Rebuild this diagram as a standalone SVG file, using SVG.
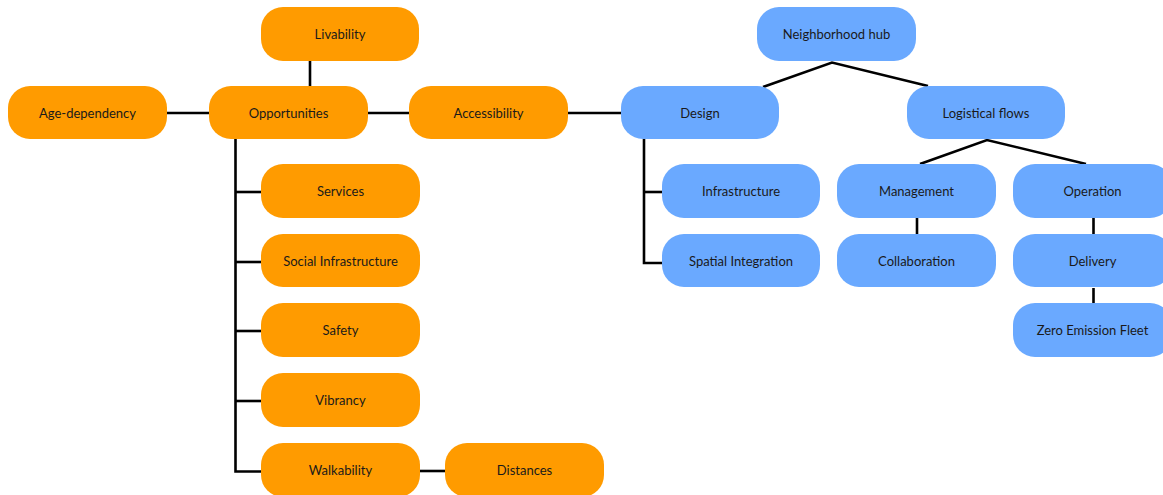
<svg xmlns="http://www.w3.org/2000/svg" width="1163" height="495" viewBox="0 0 1163 495">
  <style>
    .o rect { fill: #FF9B00; }
    .b rect { fill: #6AA9FF; }
    text { font-family: Lato, "Liberation Sans", sans-serif; font-size: 13px; fill: #1a1a1a; text-anchor: middle; dominant-baseline: central; }
    #connectors { stroke: #000; stroke-width: 2.6; fill: none; }
  </style>
  <rect width="1163" height="495" fill="#fff"/>

  <!-- links -->
  <g id="connectors">
    <line x1="310" y1="61" x2="310" y2="86"/>
    <line x1="167" y1="113" x2="209" y2="113"/>
    <line x1="368" y1="113" x2="409" y2="113"/>
    <line x1="568" y1="113" x2="621" y2="113"/>
    <!-- opportunities trunk -->
    <polyline points="235.5,139 235.5,471.5 261,471.5"/>
    <line x1="235.5" y1="192" x2="261" y2="192"/>
    <line x1="235.5" y1="262" x2="261" y2="262"/>
    <line x1="235.5" y1="331" x2="261" y2="331"/>
    <line x1="235.5" y1="401" x2="261" y2="401"/>
    <line x1="420" y1="471" x2="445" y2="471"/>
    <!-- hub -->
    <polyline points="763,87 832,62.5 928,86"/>
    <!-- design trunk -->
    <polyline points="644,139 644,263 662,263"/>
    <line x1="644" y1="192" x2="662" y2="192"/>
    <!-- logistical flows -->
    <polyline points="920,164 987,140 1086,164"/>
    <line x1="917" y1="218" x2="917" y2="234"/>
    <line x1="1093.5" y1="218" x2="1093.5" y2="234"/>
    <line x1="1093.5" y1="288" x2="1093.5" y2="304"/>
  </g>

  <!-- orange branch -->
  <g id="livability" class="o"><rect x="261" y="7" width="158" height="54" rx="22"/><text x="340" y="34">Livability</text></g>
  <g id="age-dependency" class="o"><rect x="8" y="86" width="159" height="53" rx="22"/><text x="87.5" y="112.5">Age-dependency</text></g>
  <g id="opportunities" class="o"><rect x="209" y="86" width="159" height="53" rx="22"/><text x="288.5" y="112.5">Opportunities</text></g>
  <g id="accessibility" class="o"><rect x="409" y="86" width="159" height="53" rx="22"/><text x="488.5" y="112.5">Accessibility</text></g>
  <g id="services" class="o"><rect x="261" y="164" width="159" height="54" rx="22"/><text x="340.5" y="191">Services</text></g>
  <g id="social-infrastructure" class="o"><rect x="261" y="234" width="159" height="53" rx="22"/><text x="340.5" y="260.5">Social Infrastructure</text></g>
  <g id="safety" class="o"><rect x="261" y="303" width="159" height="54" rx="22"/><text x="340.5" y="330">Safety</text></g>
  <g id="vibrancy" class="o"><rect x="261" y="373" width="159" height="54" rx="22"/><text x="340.5" y="400">Vibrancy</text></g>
  <g id="walkability" class="o"><rect x="261" y="443" width="159" height="54" rx="22"/><text x="340.5" y="469.5">Walkability</text></g>
  <g id="distances" class="o"><rect x="445" y="443" width="159" height="54" rx="22"/><text x="524.5" y="469.5">Distances</text></g>

  <!-- blue branch -->
  <g id="neighborhood-hub" class="b"><rect x="757" y="7" width="159" height="54" rx="22"/><text x="836.5" y="34">Neighborhood hub</text></g>
  <g id="design" class="b"><rect x="621" y="86" width="158" height="53" rx="22"/><text x="700" y="112.5">Design</text></g>
  <g id="logistical-flows" class="b"><rect x="907" y="86" width="158" height="53" rx="22"/><text x="986" y="112.5">Logistical flows</text></g>
  <g id="infrastructure" class="b"><rect x="662" y="164" width="158" height="54" rx="22"/><text x="741" y="191">Infrastructure</text></g>
  <g id="spatial-integration" class="b"><rect x="662" y="234" width="158" height="53" rx="22"/><text x="741" y="260.5">Spatial Integration</text></g>
  <g id="management" class="b"><rect x="837" y="164" width="159" height="54" rx="22"/><text x="916.5" y="191">Management</text></g>
  <g id="collaboration" class="b"><rect x="837" y="234" width="159" height="53" rx="22"/><text x="916.5" y="260.5">Collaboration</text></g>
  <g id="operation" class="b"><rect x="1013" y="164" width="159" height="54" rx="22"/><text x="1092.5" y="191">Operation</text></g>
  <g id="delivery" class="b"><rect x="1013" y="234" width="159" height="53" rx="22"/><text x="1092.5" y="260.5">Delivery</text></g>
  <g id="zero-emission-fleet" class="b"><rect x="1013" y="303" width="159" height="54" rx="22"/><text x="1092.5" y="330">Zero Emission Fleet</text></g>
</svg>
